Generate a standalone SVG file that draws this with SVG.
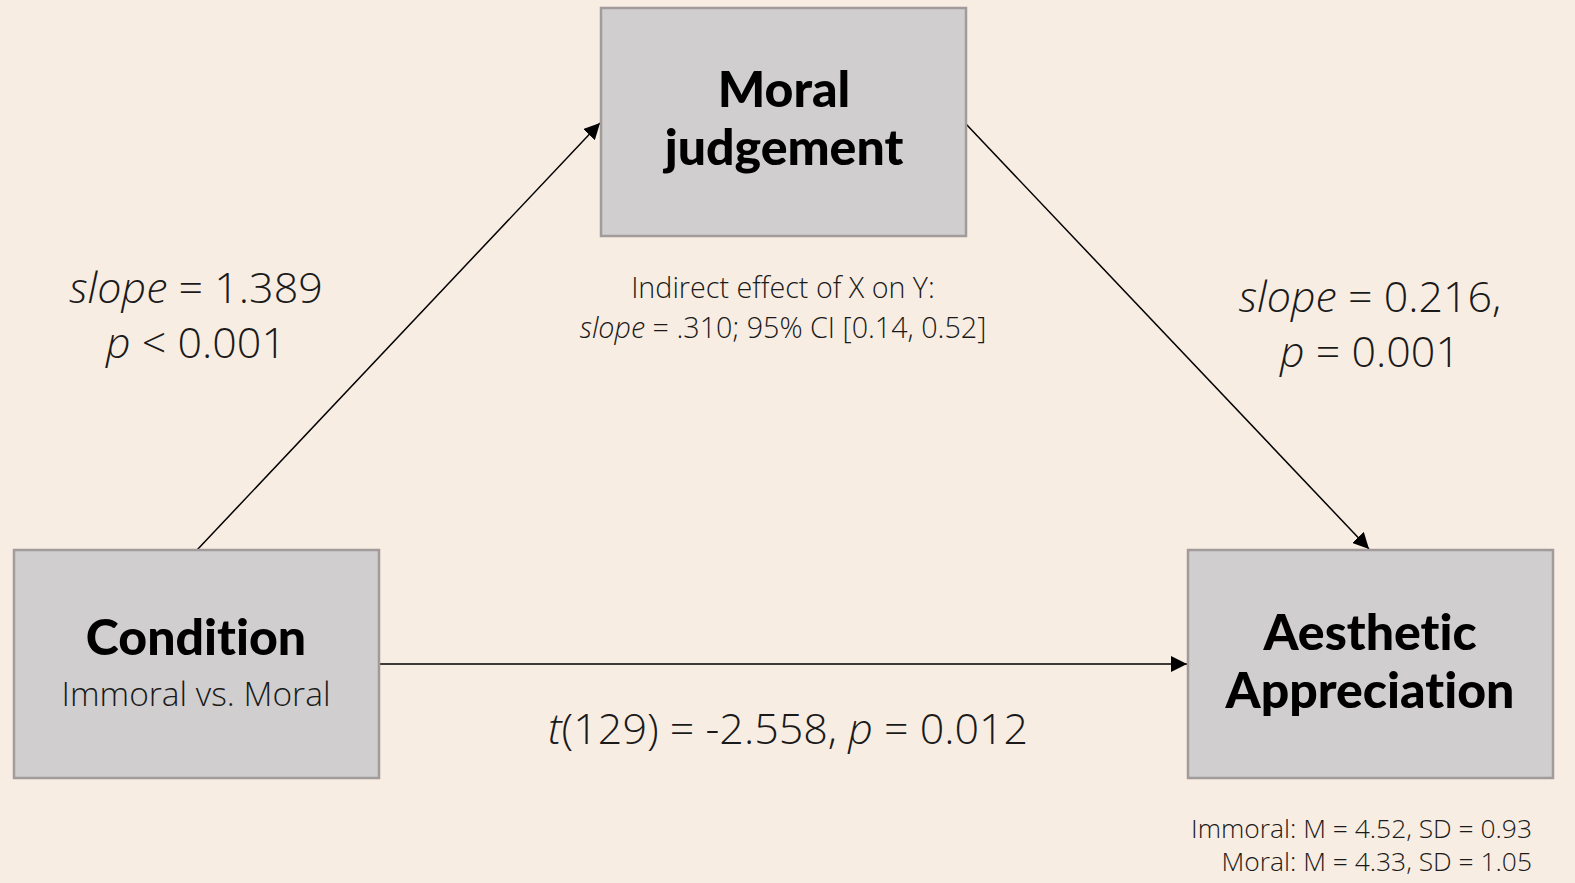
<svg xmlns="http://www.w3.org/2000/svg" width="1575" height="883" viewBox="0 0 1575 883">
<style>
.box{fill:#D0CECE;stroke:#A29B9B;stroke-width:2.5}
.title{font-family:Lato,"Liberation Sans",sans-serif;font-weight:900;font-size:50px;fill:#000;text-anchor:middle;font-variant-ligatures:none}
.lt{font-family:"Open Sans","Liberation Sans",sans-serif;font-weight:300;fill:#1a1a1a}
.big{font-size:43px}
.small{font-size:28.7px}
.bot{font-size:26.4px}
.sub{font-size:33.5px}
.c{text-anchor:middle}
.r{text-anchor:end}
.conn{stroke:#000;stroke-width:1.5;fill:none}
</style>
<defs>
<marker id="ah2" viewBox="0 0 10 10" refX="10" refY="5" markerWidth="16" markerHeight="16" markerUnits="userSpaceOnUse" orient="auto"><path d="M0,0 L10,5 L0,10 z" fill="#000"/></marker>
</defs>
<rect width="1575" height="883" fill="#F8EDE3"/>
<g id="connectors">
<line class="conn" x1="197" y1="550" x2="600" y2="123" marker-end="url(#ah2)"/>
<line class="conn" x1="966" y1="124" x2="1369" y2="549" marker-end="url(#ah2)"/>
<line class="conn" x1="379" y1="664" x2="1187" y2="664" marker-end="url(#ah2)"/>
</g>
<g id="node-moral">
<rect class="box" x="601" y="8" width="365" height="228"/>
<text class="title" x="784" y="107">Moral</text>
<text class="title" x="784" y="165">judgement</text>
</g>
<g id="node-condition">
<rect class="box" x="14" y="550" width="365" height="228"/>
<text class="title" x="196" y="655">Condition</text>
<text class="lt sub c" x="196" y="706">Immoral vs. Moral</text>
</g>
<g id="node-aesthetic">
<rect class="box" x="1188" y="550" width="365" height="228"/>
<text class="title" x="1370" y="650">Aesthetic</text>
<text class="title" x="1370" y="708">Appreciation</text>
</g>
<g id="labels">
<text class="lt big c" x="196" y="303"><tspan font-style="italic">slope</tspan> = 1.389</text>
<text class="lt big c" x="196" y="358"><tspan font-style="italic">p</tspan> &lt; 0.001</text>
<text class="lt big c" x="1370" y="312"><tspan font-style="italic">slope</tspan> = 0.216,</text>
<text class="lt big c" x="1370" y="367"><tspan font-style="italic">p</tspan> = 0.001</text>
<text class="lt small c" x="783" y="298">Indirect effect of X on Y:</text>
<text class="lt small c" x="783" y="338"><tspan font-style="italic">slope</tspan> = .310; 95% CI [0.14, 0.52]</text>
<text class="lt big c" x="788" y="744"><tspan font-style="italic">t</tspan>(129) = -2.558, <tspan font-style="italic">p</tspan> = 0.012</text>
<text class="lt bot r" x="1532" y="838">Immoral: M = 4.52, SD = 0.93</text>
<text class="lt bot r" x="1532" y="871">Moral: M = 4.33, SD = 1.05</text>
</g>
</svg>
